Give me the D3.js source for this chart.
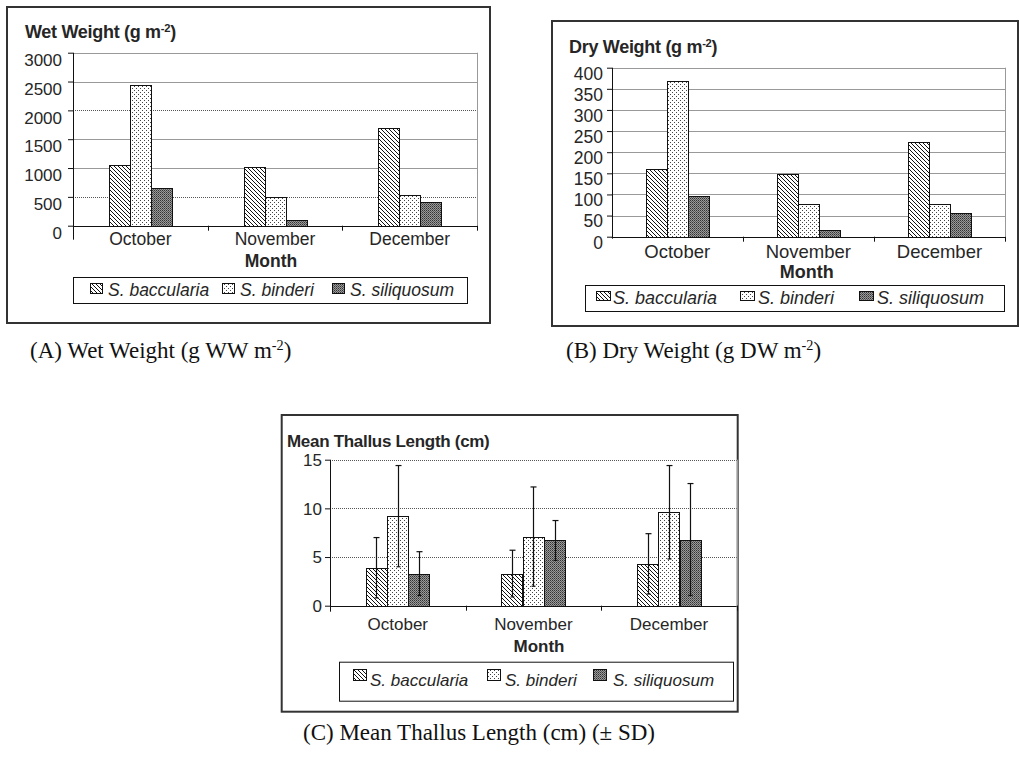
<!DOCTYPE html>
<html>
<head>
<meta charset="utf-8">
<script src="https://cdn.jsdelivr.net/npm/d3@7"></script>
<style>
  body { margin: 0; background: #fff; }
  svg { display: block; }
  text { font-family: "Liberation Sans", Arial, sans-serif; fill: #262626; }
  .cap { font-family: "Liberation Serif", "Times New Roman", serif; fill: #111; }
</style>
</head>
<body>
<div id="chart"></div>
<script>
const months = ["October", "November", "December"];
const species = ["S. baccularia", "S. binderi", "S. siliquosum"];

// (A) wet weight, g m-2 (Oct, Nov, Dec)
const wetBaccularia = [1060, 1010, 1690];
const wetBinderi = [2440, 490, 540];
const wetSiliquosum = [660, 100, 405];
const wetTicks = [0, 500, 1000, 1500, 2000, 2500, 3000];

// (B) dry weight, g m-2
const dryBaccularia = [160, 148, 223];
const dryBinderi = [368, 77, 78];
const drySiliquosum = [96, 17, 55];
const dryTicks = [0, 50, 100, 150, 200, 250, 300, 350, 400];

// (C) mean thallus length, cm, with SD
const lenBaccularia = [3.9, 3.3, 4.3];
const lenBinderi = [9.2, 7.1, 9.6];
const lenSiliquosum = [3.3, 6.7, 6.8];
const sdBaccularia = [3.1, 2.4, 3.1];
const sdBinderi = [5.2, 5.1, 4.8];
const sdSiliquosum = [2.25, 2.05, 5.75];
const lenTicks = [0, 5, 10, 15];

const svg = d3.select("#chart").append("svg")
    .attr("width", 1019)
    .attr("height", 758);

// fill patterns like the old excel b/w ones
const defs = svg.append("defs");
const hatch = defs.append("pattern").attr("id", "hatch")
    .attr("patternUnits", "userSpaceOnUse").attr("width", 4).attr("height", 4);
hatch.append("rect").attr("width", 4).attr("height", 4).attr("fill", "#fff");
hatch.append("path").attr("d", "M0,0L4,4M-1,3L1,5M3,-1L5,1")
    .attr("stroke", "#111").attr("stroke-width", 1);

const dots = defs.append("pattern").attr("id", "dots")
    .attr("patternUnits", "userSpaceOnUse").attr("width", 4).attr("height", 4);
dots.append("rect").attr("width", 4).attr("height", 4).attr("fill", "#fff");
dots.append("rect").attr("x", 0).attr("y", 0).attr("width", 1).attr("height", 1).attr("fill", "#444");
dots.append("rect").attr("x", 2).attr("y", 2).attr("width", 1).attr("height", 1).attr("fill", "#444");

const dark = defs.append("pattern").attr("id", "dark")
    .attr("patternUnits", "userSpaceOnUse").attr("width", 2).attr("height", 2);
dark.append("rect").attr("width", 2).attr("height", 2).attr("fill", "#9a9a9a");
dark.append("rect").attr("width", 1).attr("height", 1).attr("fill", "#333");
dark.append("rect").attr("x", 1).attr("y", 1).attr("width", 1).attr("height", 1).attr("fill", "#5a5a5a");

const fills = ["url(#hatch)", "url(#dots)", "url(#dark)"];

function supText(sel, main, sup, tail, shift) {
    sel.append("tspan").text(main);
    sel.append("tspan").attr("dy", -shift).attr("font-size", "0.62em").text(sup);
    sel.append("tspan").attr("dy", shift).text(tail);
}

function drawPanel(p) {
    const g = svg.append("g");
    const pl = p.plot;

    g.append("rect")
        .attr("x", p.frame[0]).attr("y", p.frame[1])
        .attr("width", p.frame[2]).attr("height", p.frame[3])
        .attr("fill", "none").attr("stroke", "#333").attr("stroke-width", 2);

    const title = g.append("text")
        .attr("x", p.title.x).attr("y", p.title.y)
        .attr("font-weight", "bold").attr("font-size", p.title.size)
        .attr("letter-spacing", -0.3);
    if (p.title.sup) supText(title, p.title.text, p.title.sup, p.title.tail, 6);
    else title.text(p.title.text);

    const y = d3.scaleLinear().domain([0, d3.max(p.ticks)]).range([pl.b, pl.t]);
    const x0 = d3.scaleBand().domain(months).range([pl.l, pl.r]);
    const bw = x0.bandwidth();
    const x1 = d3.scaleBand().domain(species)
        .range([(bw - p.groupWidth) / 2, (bw + p.groupWidth) / 2]);

    // gridlines
    g.append("g").selectAll("line")
        .data(p.ticks.filter(t => t > 0))
        .join("line")
        .attr("x1", pl.l).attr("x2", pl.r)
        .attr("y1", d => Math.round(y(d)) + 0.5)
        .attr("y2", d => Math.round(y(d)) + 0.5)
        .attr("stroke", d => p.dotted.includes(d) ? "#555" : "#999")
        .attr("stroke-dasharray", d => p.dotted.includes(d) ? "1,1" : null);

    g.append("line")
        .attr("x1", Math.round(pl.r) + 0.5).attr("x2", Math.round(pl.r) + 0.5)
        .attr("y1", pl.t).attr("y2", pl.b)
        .attr("stroke", "#999");

    // bars
    const rows = [];
    months.forEach((m, i) => species.forEach((s, j) => {
        rows.push({ m, s, j, v: p.values[j][i], sd: p.sd ? p.sd[j][i] : null });
    }));

    g.append("g").selectAll("rect")
        .data(rows)
        .join("rect")
        .attr("x", d => Math.round(x0(d.m) + x1(d.s)) + 0.5)
        .attr("y", d => Math.round(y(d.v)) + 0.5)
        .attr("width", Math.round(x1.bandwidth()))
        .attr("height", d => Math.round(y(0)) - Math.round(y(d.v)))
        .attr("fill", d => fills[d.j])
        .attr("stroke", "#111")
        .attr("stroke-width", 1);

    if (p.sd) {
        const eb = g.append("g").attr("stroke", "#111").attr("stroke-width", 1.2);
        const cx = d => Math.round(x0(d.m) + x1(d.s) + x1.bandwidth() / 2) + 0.5;
        eb.selectAll(".v").data(rows).join("line")
            .attr("x1", cx).attr("x2", cx)
            .attr("y1", d => y(d.v + d.sd)).attr("y2", d => y(d.v - d.sd));
        eb.selectAll(".t").data(rows).join("line")
            .attr("x1", d => cx(d) - 3).attr("x2", d => cx(d) + 3)
            .attr("y1", d => y(d.v + d.sd)).attr("y2", d => y(d.v + d.sd));
        eb.selectAll(".b").data(rows).join("line")
            .attr("x1", d => cx(d) - 2).attr("x2", d => cx(d) + 2)
            .attr("y1", d => y(d.v - d.sd)).attr("y2", d => y(d.v - d.sd));
    }

    // y axis
    const ya = g.append("g")
        .attr("transform", `translate(${Math.round(pl.l)},0)`)
        .call(d3.axisLeft(y).tickValues(p.ticks).tickFormat(d3.format("d"))
            .tickSize(5).tickPadding(p.tickPad));
    ya.attr("font-family", null).attr("font-size", null);
    ya.select(".domain").remove();
    ya.selectAll(".tick line").attr("stroke", "#111");
    ya.selectAll(".tick text")
        .attr("fill", "#262626")
        .attr("font-size", p.tickSize)
        .attr("dy", p.labelDy);
    g.append("line")
        .attr("x1", Math.round(pl.l) + 0.5).attr("x2", Math.round(pl.l) + 0.5)
        .attr("y1", pl.t).attr("y2", pl.b + p.axisExt)
        .attr("stroke", "#111");

    // x axis
    g.append("line")
        .attr("x1", pl.l).attr("x2", pl.r)
        .attr("y1", Math.round(y(0)) + 0.5).attr("y2", Math.round(y(0)) + 0.5)
        .attr("stroke", "#111");
    g.append("g").selectAll("line")
        .data(months.slice(1).map(m => x0(m)).concat([pl.r]))
        .join("line")
        .attr("x1", d => Math.round(d) + 0.5).attr("x2", d => Math.round(d) + 0.5)
        .attr("y1", y(0)).attr("y2", y(0) + 5)
        .attr("stroke", "#111");

    g.append("g").selectAll("text")
        .data(months)
        .join("text")
        .attr("x", d => x0(d) + bw / 2)
        .attr("y", p.catY)
        .attr("text-anchor", "middle")
        .attr("font-size", p.catSize)
        .text(d => d);

    g.append("text")
        .attr("x", p.month.x).attr("y", p.month.y)
        .attr("text-anchor", "middle")
        .attr("font-weight", "bold")
        .attr("font-size", p.month.size)
        .text("Month");

    // legend
    const lg = p.legend;
    g.append("rect")
        .attr("x", lg.box[0] + 0.5).attr("y", lg.box[1] + 0.5)
        .attr("width", lg.box[2]).attr("height", lg.box[3])
        .attr("fill", "#fff").attr("stroke", "#111");
    const items = g.append("g").selectAll("g")
        .data(species)
        .join("g");
    items.append("rect")
        .attr("x", (d, i) => lg.swatchX[i] + 0.5)
        .attr("y", lg.swatchY + 0.5)
        .attr("width", lg.sw).attr("height", lg.sh)
        .attr("fill", (d, i) => fills[i])
        .attr("stroke", "#111");
    items.append("text")
        .attr("x", (d, i) => lg.textX[i])
        .attr("y", lg.textY)
        .attr("font-style", "italic")
        .attr("font-size", lg.size)
        .text(d => d);
}

drawPanel({
    frame: [7, 7, 483, 316],
    title: { x: 25, y: 38, size: 18, text: "Wet Weight (g m", sup: "-2", tail: ")" },
    plot: { l: 73, r: 477, t: 52.7, b: 225.7 },
    axisExt: 14,
    ticks: wetTicks,
    dotted: [500, 2000],
    values: [wetBaccularia, wetBinderi, wetSiliquosum],
    groupWidth: 63,
    tickSize: 17, tickPad: 6, labelDy: "0.75em",
    catY: 245, catSize: 17.5,
    month: { x: 271, y: 267, size: 17.5 },
    legend: { box: [73, 277, 394, 26], swatchX: [90, 222, 332], textX: [108, 240, 350],
              swatchY: 283, sw: 12, sh: 10, textY: 296, size: 17.5 }
});

drawPanel({
    frame: [552, 21, 466, 305],
    title: { x: 569, y: 53, size: 18, text: "Dry Weight (g m", sup: "-2", tail: ")" },
    plot: { l: 611.7, r: 1005, t: 67.7, b: 236.7 },
    axisExt: 2,
    ticks: dryTicks,
    dotted: [],
    values: [dryBaccularia, dryBinderi, drySiliquosum],
    groupWidth: 62,
    tickSize: 17.5, tickPad: 4, labelDy: "0.65em",
    catY: 258, catSize: 18.5,
    month: { x: 806.7, y: 278, size: 18 },
    legend: { box: [585, 285, 419, 26], swatchX: [596, 740, 859], textX: [613, 758, 877],
              swatchY: 291, sw: 14, sh: 9, textY: 304, size: 18 }
});

drawPanel({
    frame: [281.7, 415, 456, 296.7],
    title: { x: 287, y: 447, size: 17, text: "Mean Thallus Length (cm)" },
    plot: { l: 330, r: 736.7, t: 459.7, b: 605.7 },
    axisExt: 6,
    ticks: lenTicks,
    dotted: [5, 10, 15],
    values: [lenBaccularia, lenBinderi, lenSiliquosum],
    sd: [sdBaccularia, sdBinderi, sdSiliquosum],
    groupWidth: 64,
    tickSize: 17, tickPad: 3, labelDy: "0.35em",
    catY: 630, catSize: 17,
    month: { x: 539, y: 652, size: 17 },
    legend: { box: [339, 661.7, 394, 39], swatchX: [353, 487, 593], textX: [370, 505, 613],
              swatchY: 669, sw: 13, sh: 11, textY: 686, size: 17 }
});

// figure captions
const capA = svg.append("text").attr("class", "cap").attr("x", 30).attr("y", 358).attr("font-size", 23);
supText(capA, "(A) Wet Weight (g WW m", "-2", ")", 8);
const capB = svg.append("text").attr("class", "cap").attr("x", 566).attr("y", 358).attr("font-size", 23);
supText(capB, "(B) Dry Weight (g DW m", "-2", ")", 8);
svg.append("text").attr("class", "cap").attr("x", 303).attr("y", 740).attr("font-size", 23)
    .text("(C) Mean Thallus Length (cm) (\u00b1 SD)");
</script>
</body>
</html>
